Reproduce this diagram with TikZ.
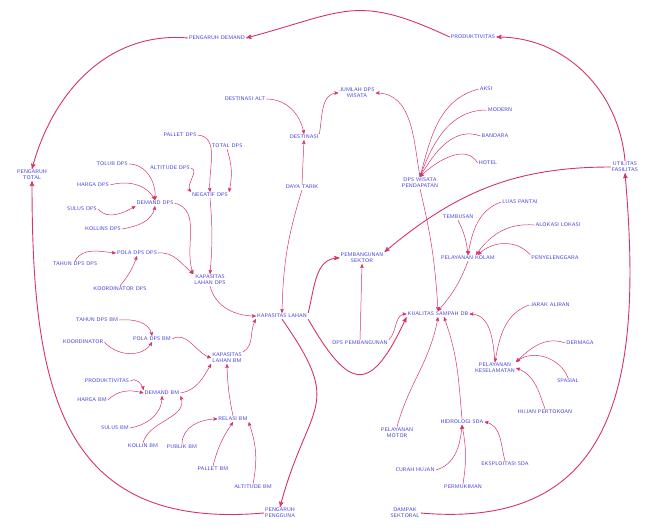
\documentclass[tikz,border=0pt]{standalone}
\usepackage{xcolor}
\usepackage{tikz}
\usetikzlibrary{arrows}
\definecolor{linkred}{RGB}{214,52,104}
\definecolor{varblue}{RGB}{66,60,220}

\begin{document}
\begin{tikzpicture}[x=1pt, y=-1pt,
  var/.style={text=varblue, font=\fontsize{5.3}{5.9}\selectfont\sffamily, inner sep=1pt, align=center},
  link/.style={draw=linkred, line width=0.5pt, -stealth'},
  biglink/.style={link, line width=0.9pt}]
\useasboundingbox (0,0) rectangle (653,530);

\node[var] (dmd) at (217,38) {PENGARUH DEMAND};
\node[var] (prd) at (473,37) {PRODUKTIVITAS};
\node[var] (tot) at (32,175) {PENGARUH\\TOTAL};
\node[var] (utl) at (625,167) {UTILITAS\\FASILITAS};
\node[var] (dal) at (245,99) {DESTINASI ALT};
\node[var] (dst) at (304,137) {DESTINASI};
\node[var] (dyt) at (302,187) {DAYA TARIK};
\node[var] (jml) at (357,93) {JUMLAH DPS\\WISATA};
\node[var] (dpw) at (420,183) {DPS WISATA\\PENDAPATAN};
\node[var] (aks) at (486,89) {AKSI};
\node[var] (mod) at (500,110) {MODERN};
\node[var] (bnd) at (495,136) {BANDARA};
\node[var] (htl) at (488,163) {HOTEL};

\node[var] (pld) at (180,135) {PALLET DPS};
\node[var] (ttd) at (227,146) {TOTAL DPS};
\node[var] (tlb) at (112,164) {TOLUB DPS};
\node[var] (ald) at (170,168) {ALTITUDE DPS};
\node[var] (ngd) at (210,195) {NEGATIF DPS};
\node[var] (hgd) at (93,185) {HARGA DPS};
\node[var] (dpd) at (155,203) {DEMAND DPS};
\node[var] (sld) at (82,209) {SULUS DPS};
\node[var] (kld) at (103,229) {KOLLINS DPS};
\node[var] (pod) at (137,253) {POLA DPS DPS};
\node[var] (thd) at (75,264) {TAHUN DPS DPS};
\node[var] (krd) at (120,289) {KOORDINATOR DPS};
\node[var] (kpd) at (210,280) {KAPASITAS\\LAHAN DPS};
\node[var] (kpl) at (282,316) {KAPASITAS LAHAN};

\node[var] (thb) at (97,320) {TAHUN DPS BM};
\node[var] (krb) at (83,342) {KOORDINATOR};
\node[var] (pob) at (152,339) {POLA DPS BM};
\node[var] (kpb) at (227,358) {KAPASITAS\\LAHAN BM};
\node[var] (prb) at (107,381) {PRODUKTIVITAS};
\node[var] (hgb) at (92,400) {HARGA BM};
\node[var] (dmb) at (162,393) {DEMAND BM};
\node[var] (slb) at (115,428) {SULUS BM};
\node[var] (klb) at (143,446) {KOLLIN BM};
\node[var] (pbb) at (182,447) {PUBLIK BM};
\node[var] (rlb) at (233,419) {RELASI BM};
\node[var] (plb) at (213,469) {PALLET BM};
\node[var] (alb) at (253,487) {ALTITUDE BM};
\node[var] (pgn) at (280,513) {PENGARUH\\PENGGUNA};

\node[var] (pbs) at (362,258) {PEMBANGUNAN\\SEKTOR};
\node[var] (dpp) at (360,343) {DPS PEMBANGUNAN};
\node[var] (kls) at (438,314) {KUALITAS SAMPAH DB};
\node[var] (plk) at (468,258) {PELAYANAN KOLAM};
\node[var] (tmb) at (458,217) {TEMBUSAN};
\node[var] (lps) at (520,202) {LUAS PANTAI};
\node[var] (alk) at (558,225) {ALOKASI LOKASI};
\node[var] (pny) at (555,258) {PENYELENGGARA};
\node[var] (jrk) at (550,305) {JARAK ALIRAN};
\node[var] (drm) at (580,343) {DERMAGA};
\node[var] (pks) at (495,368) {PELAYANAN\\KESELAMATAN};
\node[var] (spl) at (568,381) {SPASIAL};
\node[var] (hjn) at (545,412) {HUJAN PERTOKOAN};
\node[var] (pmt) at (397,433) {PELAYANAN\\MOTOR};
\node[var] (hdr) at (462,422) {HIDROLOGI SDA};
\node[var] (crh) at (415,470) {CURAH HUJAN};
\node[var] (pmk) at (463,487) {PERMUKIMAN};
\node[var] (eks) at (505,464) {EKSPLOITASI SDA};
\node[var] (dsk) at (405,513) {DAMPAK\\SEKTORAL};

\draw[biglink] (utl.north) to[out=95,in=0] (prd.east);
\draw[biglink] (prd.west) to[out=155,in=15,looseness=1.3] (dmd.east);
\draw[biglink] (dmd.west) to[out=175,in=75] (tot.north);
\draw[biglink] (pgn.west) to[out=185,in=-90,looseness=1.3] (tot.south);
\draw[biglink] (dsk.east) to[out=-5,in=-85,looseness=1.3] (utl.south);
\draw[biglink] (utl.west) to[out=180,in=40] (pbs.north east);
\draw[biglink] (kpl.north east) to[out=75,in=180] (pbs.west);
\draw[biglink] (kpl.south east) to[out=-60,in=-115,looseness=2.2] (kls.south west);
\draw[biglink] (kpl.south) to[out=-55,in=75,looseness=1.5] (pgn.north);

\draw[link] (dal.east) to[out=0,in=100] (dst.north);
\draw[link] (dst.north east) to[out=80,in=180] (jml.west);
\draw[link] (dyt.north) -- (dst.south);
\draw[link] (dyt.south) to[bend right=8] (kpl.north);
\draw[link] (aks.west) to[out=195,in=75] (dpw.north);
\draw[link] (mod.west) to[out=180,in=70] (dpw.north);
\draw[link] (bnd.west) to[out=160,in=60] (dpw.north);
\draw[link] (htl.west) to[out=120,in=45] (dpw.north);
\draw[link] (dpw.north) to[out=100,in=0] (jml.east);
\draw[link] (dpw.south) to[bend left=5] (kls.north);

\draw[link] (plk.south) to[bend left=10] (kls.north);
\draw[link] (tmb.south) to[bend left=10] (plk.north);
\draw[link] (lps.west) to[out=200,in=80] (plk.north);
\draw[link] (alk.west) to[out=175,in=55] ([xshift=8pt]plk.north);
\draw[link] (pny.north west) to[out=130,in=45] ([xshift=10pt]plk.north);
\draw[link] (dpp.north) -- (pbs.south);
\draw[link] (dpp.north east) to[out=45,in=180] (kls.west);
\draw[link] (pmt.north) to[out=75,in=-100] (kls.south);
\draw[link] (hdr.north) to[out=95,in=-70] ([xshift=6pt]kls.south);
\draw[link] (pks.north) to[out=95,in=0] (kls.east);
\draw[link] (jrk.west) to[out=200,in=80] (pks.north);
\draw[link] (drm.west) to[out=160,in=45] (pks.north east);
\draw[link] (spl.north) to[out=110,in=40] (pks.north east);
\draw[link] (hjn.north) to[out=110,in=-20] (pks.east);
\draw[link] (crh.east) to[out=15,in=-95] (hdr.south);
\draw[link] (pmk.north) to[bend right=10] (hdr.south);
\draw[link] (eks.north) to[out=105,in=-10] (hdr.east);

\draw[link] (pld.east) to[out=-5,in=95] (ngd.north);
\draw[link] (ttd.south) to[bend left=15] (ngd.north east);
\draw[link] (ald.east) to[out=-15,in=130] (ngd.north west);
\draw[link] (ngd.south) to[bend left=5] (kpd.north);
\draw[link] (tlb.east) to[out=0,in=85] (dpd.north);
\draw[link] (hgd.east) to[out=15,in=120] (dpd.north);
\draw[link] (sld.east) to[out=-50,in=210] (dpd.south west);
\draw[link] (kld.east) to[out=10,in=-100] (dpd.south);
\draw[link] (dpd.east) to[out=-15,in=110] (kpd.north west);
\draw[link] (thd.north) to[out=60,in=175] (pod.west);
\draw[link] (krd.north) to[bend right=10] (pod.south);
\draw[link] (pod.east) to[out=5,in=140] (kpd.north west);
\draw[link] (kpd.south) to[out=-75,in=180] (kpl.west);

\draw[link] (thb.east) to[out=5,in=100] (pob.north);
\draw[link] (krb.east) to[out=-50,in=-120] (pob.south);
\draw[link] (pob.east) to[out=30,in=160] (kpb.west);
\draw[link] (prb.east) to[out=45,in=100] (dmb.north west);
\draw[link] (hgb.east) to[out=45,in=165] (dmb.west);
\draw[link] (slb.east) to[out=10,in=-90] (dmb.south);
\draw[link] (klb.north) to[out=75,in=-70] (dmb.south east);
\draw[link] (dmb.east) to[out=10,in=-120] (kpb.south west);
\draw[link] (pbb.north) to[out=90,in=180] (rlb.west);
\draw[link] (plb.north) to[bend left=10] (rlb.south);
\draw[link] (alb.north) to[bend right=15] (rlb.south east);
\draw[link] (rlb.north) to[bend left=5] (kpb.south);
\draw[link] (kpb.north east) to[out=30,in=-120] (kpl.south west);
\end{tikzpicture}
\end{document}
